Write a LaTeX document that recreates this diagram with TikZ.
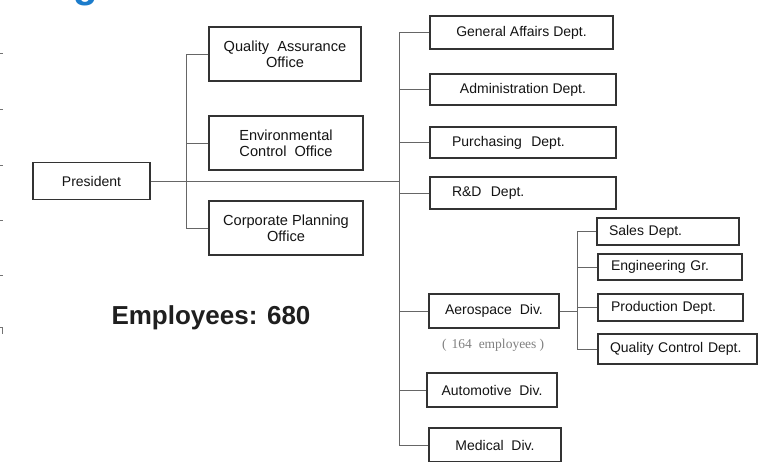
\documentclass[tikz,border=0pt]{standalone}
\usepackage{fontspec}
\setmainfont{Liberation Sans}
\newfontfamily\serifnote{Liberation Serif}
\definecolor{titleblue}{HTML}{1C7CCB}
\begin{document}
\begin{tikzpicture}[x=1pt,y=-1pt,
  box/.style={draw=black!80, line width=1.3pt, fill=white, text=black!92,
    font=\fontsize{14}{16}\selectfont, inner sep=0pt},
  obox/.style={box, align=center, font=\fontsize{14.6}{16}\selectfont},
  lbox/.style={box, align=left},
  conn/.style={draw=black!60, line width=0.9pt},
  tick/.style={draw=black!55, line width=0.8pt}]
\useasboundingbox[fill=white] (0,0) rectangle (764,462);

% cropped title fragment and edge marks
\node[anchor=base, text=titleblue, font=\bfseries\fontsize{40}{40}\selectfont, inner sep=0pt] (ttl) at (86,-2) {g};
\foreach \yy in {53,109,165,220,275} \draw[tick] (0,\yy) -- (3,\yy);
\draw[tick] (0,327) -- (2.5,327) -- (2.5,334);

% nodes
\node[box, minimum width=117pt, minimum height=37pt] (pres) at (91.5,181) {President};

\node[obox, minimum width=152pt, minimum height=54pt] (qa) at (285,54) {Quality\ \ Assurance\\Office};
\node[obox, minimum width=154pt, minimum height=54pt] (env) at (286,143) {Environmental\\Control\ \ Office};
\node[obox, minimum width=154pt, minimum height=54pt] (cp) at (286,228) {Corporate Planning\\Office};

\node[box, minimum width=183pt, minimum height=33pt] (ga) at (521.5,32.5) {General Affairs Dept.};
\node[box, minimum width=186pt, minimum height=31pt] (adm) at (523,89.5) {Administration Dept.};
\node[lbox, text width=142pt, inner xsep=22pt, minimum height=31pt] (pur) at (523,142.5) {Purchasing\ \ Dept.};
\node[lbox, text width=142pt, inner xsep=22pt, minimum height=32pt] (rd) at (523,193) {R\&D\ \ Dept.};

\node[box, minimum width=130pt, minimum height=34pt] (aero) at (494,311) {Aerospace\ \ Div.};
\node[text=black!50, font=\serifnote\fontsize{13.5}{15}\selectfont, inner sep=0pt] (note) at (493,345.5) {(\hspace{5pt}164\hspace{7pt}employees\hspace{3pt})};
\node[box, minimum width=130pt, minimum height=34pt] (auto) at (492,390) {Automotive\ \ Div.};
\node[box, minimum width=132pt, minimum height=34pt] (med) at (495,445) {Medical\ \ Div.};

\node[lbox, text width=118pt, inner xsep=12pt, minimum height=27pt] (sales) at (668,231.5) {Sales Dept.};
\node[lbox, text width=118pt, inner xsep=13pt, minimum height=26pt] (eng) at (670,267) {Engineering Gr.};
\node[lbox, text width=119pt, inner xsep=13pt, minimum height=27pt] (prod) at (670.5,307.5) {Production Dept.};
\node[lbox, text width=135pt, inner xsep=12pt, minimum height=30pt] (qc) at (677.5,349) {Quality Control Dept.};

\node[anchor=base, text=black!88, font=\bfseries\fontsize{26}{28}\selectfont, inner sep=0pt] (emp) at (211,325) {Employees: 680};

% buses
\coordinate (busL) at (186,0);
\coordinate (busR) at (399,0);
\coordinate (busS) at (577,0);

% connectors
\draw[conn] (pres.east) -- (pres.east -| busR);
\draw[conn] (qa.west) -- (qa.west -| busL) |- (cp.west);
\draw[conn] (env.west) -- (env.west -| busL);

\draw[conn] (ga.west) -- (ga.west -| busR) |- (med.west);
\draw[conn] (adm.west) -- (adm.west -| busR);
\draw[conn] (pur.west) -- (pur.west -| busR);
\draw[conn] (rd.west) -- (rd.west -| busR);
\draw[conn] (aero.west) -- (aero.west -| busR);
\draw[conn] (auto.west) -- (auto.west -| busR);

\draw[conn] (aero.east) -- (aero.east -| busS);
\draw[conn] (sales.west) -- (sales.west -| busS) |- (qc.west);
\draw[conn] (eng.west) -- (eng.west -| busS);
\draw[conn] (prod.west) -- (prod.west -| busS);
\end{tikzpicture}
\end{document}
